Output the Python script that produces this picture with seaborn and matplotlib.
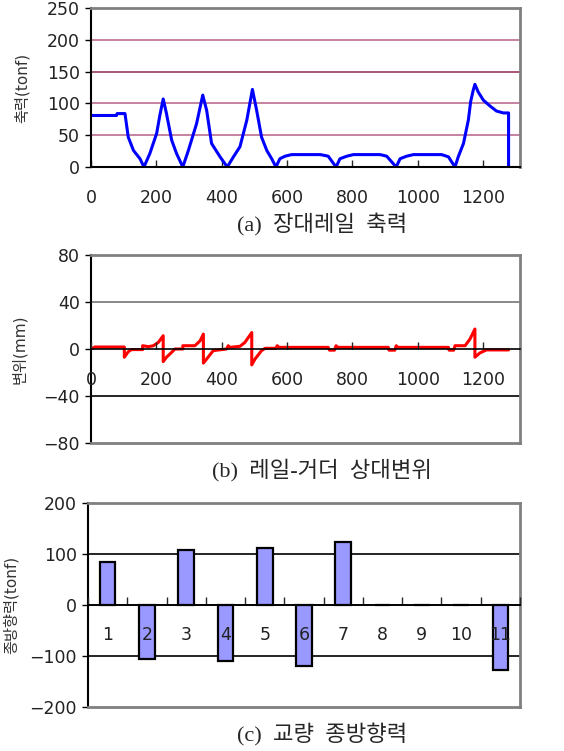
import numpy as np
import pandas as pd
import matplotlib
matplotlib.use("Agg")
import matplotlib.pyplot as plt
import seaborn as sns

# (a) rail axial force along the bridge
x_force = [0, 78, 80, 104, 114, 130, 150, 162, 180, 201, 211, 221, 231, 247, 262, 281,
           298, 323, 342, 354, 369, 395, 417, 436, 456, 477, 494, 507, 522, 538, 553, 566,
           578, 594, 614, 702, 726, 750, 762, 783, 803, 885, 905, 934, 946, 966, 987, 1073,
           1094, 1114, 1124, 1140, 1155, 1162, 1170, 1175, 1185, 1201, 1221, 1241, 1262,
           1278, 1278]
y_force = [81, 81, 84, 84, 47, 26, 13, 0, 21, 53, 82, 107, 84, 42, 21, 0,
           26, 68, 113, 89, 37, 16, 0, 16, 32, 74, 122, 89, 47, 26, 13, 0,
           13, 17, 19.5, 19.5, 17, 0, 13, 17, 19.5, 19.5, 17, 0, 13, 17, 19.5, 19.5,
           16, 0, 16, 37, 74, 103, 121, 130, 118, 105, 96, 88, 85,
           85, 0]

# (b) rail-girder relative displacement
x_disp = [0, 12, 102, 102, 114, 124, 158, 158, 176, 191, 206, 221, 221, 231, 247, 257,
          281, 281, 318, 334, 344, 344, 354, 374, 415, 420, 425, 456, 471, 492, 492, 502,
          522, 533, 566, 570, 575, 726, 730, 745, 750, 755, 910, 912, 930, 934, 939,
          1094, 1096, 1110, 1114, 1145, 1160, 1175, 1175, 1190, 1210, 1278]
y_disp = [0, 1.7, 1.7, -7, -2.3, -0.5, -0.5, 2.8, 2, 2.8, 5.6, 11.3, -10.7, -7, -2.8, 0,
          0, 2.8, 2.8, 7, 12.7, -12, -8.5, -1.4, 0, 2.8, 1.4, 2.3, 5.6, 14, -13.5, -8.5,
          -1.4, 0.6, 0.6, 2.8, 1.4, 1.4, -1, -1, 2.8, 1.4, 1.4, -1, -1, 2.8, 1.4,
          1.4, -1, -1, 2.8, 2.8, 8.5, 17, -7, -3.4, -0.8, -0.8]

# (c) longitudinal force per pier
piers = ["1", "2", "3", "4", "5", "6", "7", "8", "9", "10", "11"]
pier_force = [85, -105, 108, -109, 112, -120, 123, 0, 0, 0, -128]

sns.set_theme(style="white")
plt.rcParams["font.family"] = ["DejaVu Sans", "Noto Sans CJK KR"]

W, H = 564, 751
fig = plt.figure(figsize=(W / 100, H / 100), dpi=100)


def box(left, top, right, bottom):
    return [left / W, (H - bottom) / H, (right - left) / W, (bottom - top) / H]


def frame(ax):
    for s in ["top", "right"]:
        ax.spines[s].set_color("#808080")
        ax.spines[s].set_linewidth(2)
    for s in ["left", "bottom"]:
        ax.spines[s].set_color("black")
        ax.spines[s].set_linewidth(1.5)
    ax.tick_params(axis="y", left=True, direction="out", length=4, width=1,
                   labelsize=12.5, pad=4, colors="black")
    ax.tick_params(axis="y", labelcolor="#222222")


def zero_axis(ax, pad):
    # x axis drawn through the middle (value 0) of the panel
    sec = ax.secondary_xaxis(0.5)
    sec.set_alignment("bottom")
    sec.set_zorder(5)
    sec.spines["bottom"].set_color("black")
    sec.spines["bottom"].set_linewidth(1.2)
    sec.tick_params(axis="x", direction="in", length=5, width=1, labelsize=12.5,
                    pad=pad, labelcolor="#222222")
    return sec


title_font = ["Liberation Serif", "Noto Sans CJK KR"]

# ==================================
# (a) axial force
# ==================================
ax1 = fig.add_axes(box(91, 8, 520, 167))
df_a = pd.DataFrame({"x": x_force, "y": y_force})
for v, c in [(50, "#c07898"), (100, "#c07898"), (150, "#a04a70"), (200, "#c07898")]:
    ax1.axhline(v, color=c, lw=1.3, zorder=0)
sns.lineplot(data=df_a, x="x", y="y", sort=False, estimator=None, errorbar=None,
             color="#0000ff", lw=2.2, ax=ax1)
ax1.set_xlim(0, 1313)
ax1.set_ylim(0, 250)
ax1.set_xticks(range(0, 1201, 200))
ax1.set_yticks(range(0, 251, 50))
frame(ax1)
ax1.tick_params(axis="x", bottom=True, direction="in", length=5, width=1,
                labelsize=12.5, pad=16, labelcolor="#222222")
ax1.set_xlabel("")
ax1.set_ylabel("축력(tonf)", fontsize=11, labelpad=12, color="#333333")
fig.text(322 / W, 1 - 225 / H, "(a)  장대레일  축력", ha="center", va="center",
         fontsize=16, family=title_font)

# ==================================
# (b) relative displacement
# ==================================
ax2 = fig.add_axes(box(91, 255, 520, 443))
df_b = pd.DataFrame({"x": x_disp, "y": y_disp})
ax2.axhline(40, color="#808080", lw=1.3, zorder=0)
ax2.axhline(-40, color="black", lw=1.2, zorder=0)
sns.lineplot(data=df_b, x="x", y="y", sort=False, estimator=None, errorbar=None,
             color="#ff0000", lw=2.2, ax=ax2)
ax2.set_xlim(0, 1313)
ax2.set_ylim(-80, 80)
ax2.set_yticks([-80, -40, 0, 40, 80])
ax2.set_xticks([])
ax2.set_xlabel("")
frame(ax2)
ax2.spines["bottom"].set_color("#808080")
ax2.spines["bottom"].set_linewidth(2)
sec2 = zero_axis(ax2, 16)
sec2.set_xticks(range(0, 1201, 200))
ax2.set_ylabel("변위(mm)", fontsize=11, labelpad=12, color="#333333")
fig.text(322 / W, 1 - 470 / H, "(b)  레일-거더  상대변위", ha="center", va="center",
         fontsize=16, family=title_font)

# ==================================
# (c) pier longitudinal force
# ==================================
ax3 = fig.add_axes(box(88, 503, 520, 707))
df_c = pd.DataFrame({"pier": piers, "force": pier_force})
ax3.axhline(100, color="black", lw=1.2, zorder=0)
ax3.axhline(-100, color="black", lw=1.2, zorder=0)
sns.barplot(data=df_c, x="pier", y="force", color="#9999ff", saturation=1,
            edgecolor="black", linewidth=1.6, width=0.4, ax=ax3, zorder=1)
ax3.set_xlim(-0.5, 10.5)
ax3.set_ylim(-200, 200)
ax3.set_yticks([-200, -100, 0, 100, 200])
ax3.set_xticks([])
ax3.set_xlabel("")
frame(ax3)
ax3.spines["bottom"].set_color("#808080")
ax3.spines["bottom"].set_linewidth(2)
# category boundary tick marks on the zero line
sec3b = zero_axis(ax3, 0)
sec3b.set_xticks(np.arange(-0.5, 10.6, 1))
sec3b.tick_params(axis="x", length=6, labelbottom=False)
# category labels below the zero line
sec3 = zero_axis(ax3, 15)
sec3.set_xticks(range(len(piers)))
sec3.set_xticklabels(piers)
sec3.tick_params(axis="x", length=0)
ax3.set_ylabel("종방향력(tonf)", fontsize=11, labelpad=8, color="#333333")
fig.text(322 / W, 1 - 735 / H, "(c)  교량  종방향력", ha="center", va="center",
         fontsize=16, family=title_font)

fig.savefig("out.png", dpi=100)
